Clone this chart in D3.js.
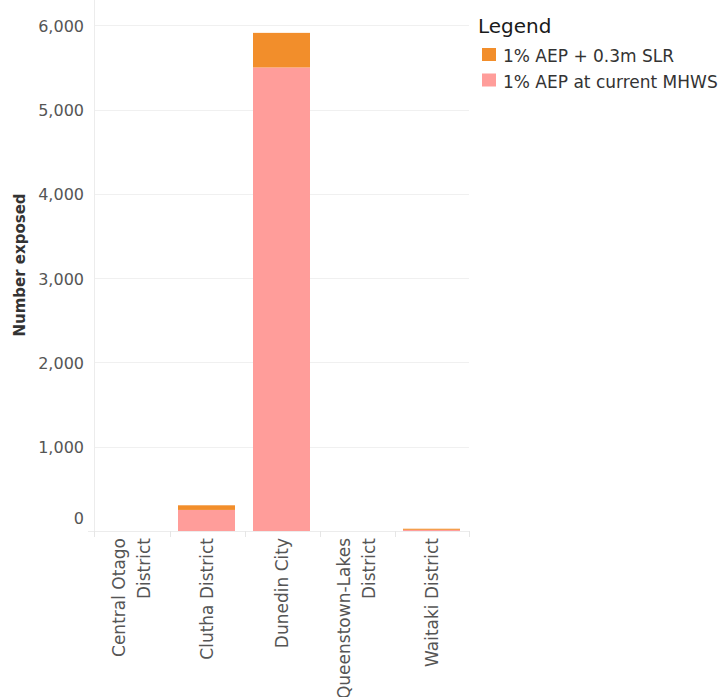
<!DOCTYPE html>
<html>
<head>
<meta charset="utf-8">
<script src="https://cdn.jsdelivr.net/npm/d3@7"></script>
<style>
  html, body { margin: 0; padding: 0; background: #fff; }
  svg { display: block; font-family: "DejaVu Sans", sans-serif; }
</style>
</head>
<body>
<svg id="chart" width="722" height="697"></svg>
<script>
// ---- data ----
const categories = ["Central Otago District", "Clutha District", "Dunedin City", "Queenstown-Lakes District", "Waitaki District"];
const categoryLines = [["Central Otago", "District"], ["Clutha District"], ["Dunedin City"], ["Queenstown-Lakes", "District"], ["Waitaki District"]];
const currentMHWS = [0, 250, 5500, 0, 14];
const plusSLR = [0, 55, 410, 0, 13];
const seriesNames = ["1% AEP + 0.3m SLR", "1% AEP at current MHWS"];
const seriesColors = ["#f28e2b", "#ff9d9a"];
const yTicks = [0, 1000, 2000, 3000, 4000, 5000, 6000];

const svg = d3.select("#chart");
const x = d3.scaleBand().domain(categories).range([94, 469]).paddingInner(0.24).paddingOuter(0.12);
const y = d3.scaleLinear().domain([0, 6300]).range([531, 0]);

// gridlines
svg.append("g").selectAll("line").data(yTicks.filter(d => d > 0)).join("line")
  .attr("x1", 94).attr("x2", 469)
  .attr("y1", d => Math.round(y(d)) + 0.5).attr("y2", d => Math.round(y(d)) + 0.5)
  .attr("stroke", "#f0f0f0").attr("stroke-width", 1);

// axis lines
svg.append("line").attr("x1", 94.5).attr("x2", 94.5).attr("y1", 0).attr("y2", 536)
  .attr("stroke", "#ececec");
svg.append("line").attr("x1", 88).attr("x2", 469).attr("y1", 531.5).attr("y2", 531.5)
  .attr("stroke", "#ececec");
// band separator ticks
const bounds = categories.map(c => x(c) - x.step() * x.paddingInner() / 2 + 0.5);
bounds[0] = 94;
bounds.push(469);
svg.append("g").selectAll("line").data(bounds).join("line")
  .attr("x1", d => Math.round(d) + 0.5).attr("x2", d => Math.round(d) + 0.5)
  .attr("y1", 531).attr("y2", 537).attr("stroke", "#e6e6e6");

// stacked bars
const rows = categories.map((c, i) => ({ cat: c, current: currentMHWS[i], slr: plusSLR[i] }));
const stack = d3.stack().keys(["current", "slr"])(rows);
const colorFor = { current: seriesColors[1], slr: seriesColors[0] };
svg.append("g").selectAll("g").data(stack).join("g")
  .attr("fill", d => colorFor[d.key])
  .selectAll("rect").data(d => d).join("rect")
  .attr("x", d => x(d.data.cat))
  .attr("width", x.bandwidth())
  .attr("y", d => y(d[1]))
  .attr("height", d => Math.max(0, y(d[0]) - y(d[1])));

// y tick labels
svg.append("g").selectAll("text").data(yTicks).join("text")
  .attr("x", 84)
  .attr("y", d => d === 0 ? 518 : y(d) + 1)
  .attr("dy", "0.35em")
  .attr("text-anchor", "end")
  .attr("font-size", 16)
  .attr("fill", "#555")
  .text(d => d3.format(",")(d));

// y axis title
svg.append("text")
  .attr("transform", "translate(20,265) rotate(-90)")
  .attr("text-anchor", "middle")
  .attr("dominant-baseline", "central")
  .attr("font-size", 15)
  .attr("font-weight", "bold")
  .attr("fill", "#333")
  .text("Number exposed");

// x labels
const xl = svg.append("g").selectAll("text").data(categories).join("text")
  .attr("transform", d => `translate(${x(d) + x.bandwidth() / 2},538) rotate(-90)`)
  .attr("text-anchor", "end")
  .attr("font-size", 17)
  .attr("fill", "#555");
xl.each(function(d, i) {
  const lines = categoryLines[i];
  const n = lines.length;
  d3.select(this).selectAll("tspan").data(lines).join("tspan")
    .attr("x", 0)
    .attr("y", (l, j) => (j - (n - 1) / 2) * 25)
    .attr("dominant-baseline", "central")
    .text(l => l);
});

// legend
svg.append("text").attr("x", 478).attr("y", 33)
  .attr("font-size", 20).attr("fill", "#1a1a1a").text("Legend");
const lg = svg.append("g").selectAll("g").data(seriesNames).join("g")
  .attr("transform", (d, i) => `translate(482,${48 + i * 25.5})`);
lg.append("rect").attr("width", 14).attr("height", 13).attr("fill", (d, i) => seriesColors[i]);
lg.append("text").attr("x", 21).attr("y", 14).attr("font-size", 17).attr("fill", "#333").text(d => d);
</script>
</body>
</html>
